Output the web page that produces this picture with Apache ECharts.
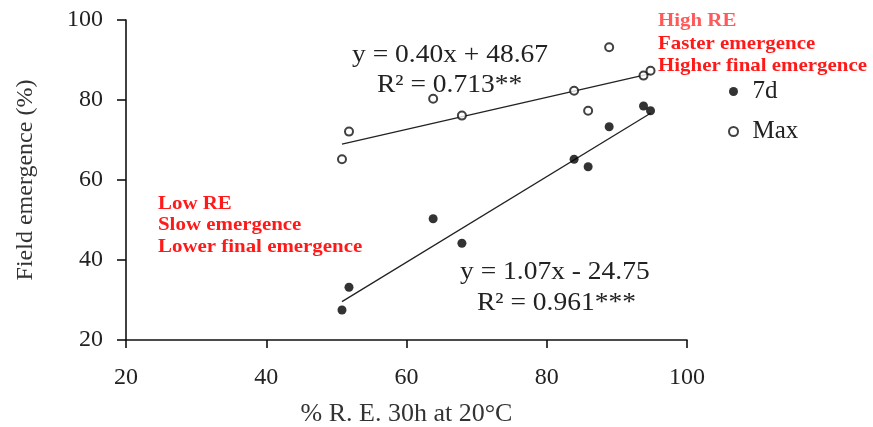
<!DOCTYPE html>
<html><head><meta charset="utf-8">
<script src="https://cdn.jsdelivr.net/npm/echarts@6/dist/echarts.min.js"></script>
<style>html,body{margin:0;padding:0;background:#fff}#c{width:873px;height:427px}</style>
</head><body><div id="c"></div>
<script>
const reValues = [50.8, 51.8, 63.8, 67.9, 83.9, 85.9, 88.9, 93.8, 94.8];
const emergence7d = [27.5, 33.2, 50.3, 44.2, 65.2, 63.3, 73.3, 78.5, 77.3];
const emergenceMax = [65.2, 72.1, 80.3, 76.1, 82.3, 77.3, 93.2, 86.1, 87.3];
const fit7d = [1.07, -24.75];
const fitMax = [0.40, 48.67];
const xTicks = [20, 40, 60, 80, 100];
const yTicks = [20, 40, 60, 80, 100];

const FONT = '"Liberation Serif", "Times New Roman", serif';
const xMin = Math.min(...reValues), xMax = Math.max(...reValues);
const trend = f => [[xMin, f[0]*xMin + f[1]], [xMax, f[0]*xMax + f[1]]];
const pts = ys => reValues.map((x, i) => [x, ys[i]]);

const chart = echarts.init(document.getElementById('c'), null, {renderer: 'canvas'});
const txt = (x, y, text, font, fill, sx) => ({
  type: 'text', x: x, y: y, scaleX: sx || 1.1, silent: true,
  style: {text: text, x: 0, y: 0, font: font || ('25px ' + FONT), fill: fill || '#222', verticalAlign: 'middle', align: 'left'}
});
const RED = '#ff1a1a';
const BF = 'bold 19px ' + FONT;
chart.setOption({
  animation: false,
  backgroundColor: '#fff',
  grid: {left: 126, right: 186, top: 20, bottom: 87, containLabel: false, outerBoundsMode: 'none'},
  xAxis: {
    type: 'value', min: xTicks[0], max: xTicks[xTicks.length-1], interval: 20,
    name: '% R. E. 30h at 20°C', nameLocation: 'middle', nameGap: 61,
    nameTextStyle: {fontFamily: FONT, fontSize: 26, color: '#333'},
    axisLine: {show: true, lineStyle: {color: '#111', width: 1.6}},
    axisTick: {show: true, length: 8, lineStyle: {color: '#111', width: 1.6}},
    axisLabel: {fontFamily: FONT, fontSize: 24, color: '#222', margin: 26},
    splitLine: {show: false}
  },
  yAxis: {
    type: 'value', min: yTicks[0], max: yTicks[yTicks.length-1], interval: 20,
    name: 'Field emergence (%)', nameLocation: 'middle', nameGap: 88,
    nameTextStyle: {fontFamily: FONT, fontSize: 24, color: '#333'},
    axisLine: {show: true, lineStyle: {color: '#111', width: 1.6}},
    axisTick: {show: true, length: 9, lineStyle: {color: '#111', width: 1.6}},
    axisLabel: {fontFamily: FONT, fontSize: 24, color: '#222', margin: 23},
    splitLine: {show: false}
  },
  legend: {
    orient: 'vertical', left: 723, top: 74, itemWidth: 20, itemHeight: 9, itemGap: 15,
    textStyle: {fontFamily: FONT, fontSize: 25, color: '#222', padding: [0,0,0,4]},
    data: [{name: '7d', icon: 'circle'}, {name: 'Max', icon: 'emptyCircle'}]
  },
  series: [
    {name: '7d', type: 'scatter', data: pts(emergence7d), symbol: 'circle', symbolSize: 9,
     itemStyle: {color: '#000'}, z: 3},
    {name: 'Max', type: 'scatter', data: pts(emergenceMax), symbol: 'emptyCircle', symbolSize: 8,
     itemStyle: {color: '#111', borderWidth: 1.3}, z: 3},
    {name: 'fit7d', type: 'line', data: trend(fit7d), symbol: 'none', lineStyle: {color: '#222', width: 1.3}, z: 2},
    {name: 'fitMax', type: 'line', data: trend(fitMax), symbol: 'none', lineStyle: {color: '#222', width: 1.3}, z: 2}
  ],
  graphic: [
    txt(352, 55, 'y = 0.40x + 48.67'),
    txt(377, 85, 'R² = 0.713**'),
    txt(460, 272, 'y = 1.07x - 24.75'),
    txt(477, 303, 'R² = 0.961***'),
    txt(658, 21, 'High RE', BF, '#ff5a5a'),
    txt(658, 44, 'Faster emergence', BF, RED),
    txt(658, 66, 'Higher final emergence', BF, RED),
    txt(158, 204, 'Low RE', BF, RED),
    txt(158, 225, 'Slow emergence', BF, RED),
    txt(158, 247, 'Lower final emergence', BF, RED)
  ]
});
</script></body></html>
